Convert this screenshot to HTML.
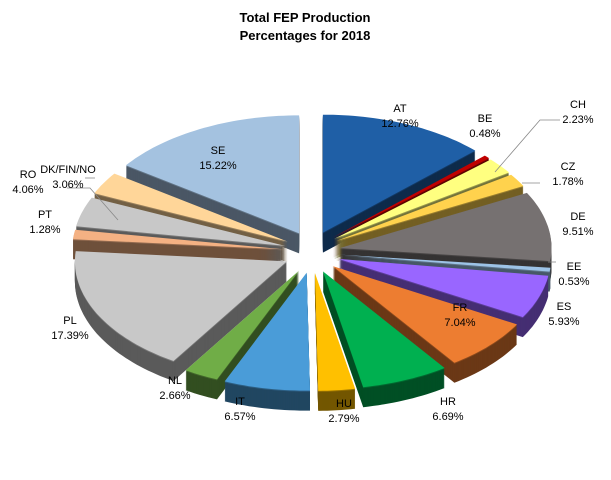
<!DOCTYPE html>
<html><head><meta charset="utf-8"><style>
body{margin:0;background:#fff;width:611px;height:480px;overflow:hidden}
svg{display:block}
text{font-family:"Liberation Sans",sans-serif;font-size:11px;fill:#000}
</style></head><body>
<svg id="s" width="611" height="480" viewBox="0 0 611 480">
<g id="pie"></g>
<g stroke="#888" stroke-width="0.8" fill="none">
<polyline points="495,172 540,120 560,120"/>
<polyline points="522,183 540,183"/>
<polyline points="548,262 556,262"/>
<polyline points="67,188 90,188 118,220"/>
<polyline points="85,178 95,178"/>
</g>
<text x="305" y="22" text-anchor="middle" style="font-weight:bold;font-size:13px">Total FEP Production</text>
<text x="305" y="40" text-anchor="middle" style="font-weight:bold;font-size:13px">Percentages for 2018</text>
<g text-anchor="middle">
<text x="400" y="112">AT</text><text x="400" y="127">12.76%</text>
<text x="485" y="122">BE</text><text x="485" y="137">0.48%</text>
<text x="578" y="108">CH</text><text x="578" y="123">2.23%</text>
<text x="568" y="170">CZ</text><text x="568" y="185">1.78%</text>
<text x="578" y="220">DE</text><text x="578" y="235">9.51%</text>
<text x="574" y="270">EE</text><text x="574" y="285">0.53%</text>
<text x="564" y="310">ES</text><text x="564" y="325">5.93%</text>
<text x="460" y="311">FR</text><text x="460" y="326">7.04%</text>
<text x="448" y="405">HR</text><text x="448" y="420">6.69%</text>
<text x="344" y="407">HU</text><text x="344" y="422">2.79%</text>
<text x="240" y="405">IT</text><text x="240" y="420">6.57%</text>
<text x="175" y="384">NL</text><text x="175" y="399">2.66%</text>
<text x="70" y="324">PL</text><text x="70" y="339">17.39%</text>
<text x="45" y="218">PT</text><text x="45" y="233">1.28%</text>
<text x="28" y="178">RO</text><text x="28" y="193">4.06%</text>
<text x="68" y="173">DK/FIN/NO</text><text x="68" y="188">3.06%</text>
<text x="218" y="154">SE</text><text x="218" y="169">15.22%</text>
</g>
</svg>
<script>
var data=[["AT",12.76,"#1f5fa6"],["BE",0.48,"#c00000"],["CH",2.23,"#ffff80"],["CZ",1.78,"#ffd24d"],["DE",9.51,"#767171"],["EE",0.53,"#9dc3e6"],["ES",5.93,"#9966ff"],["FR",7.04,"#ed7d31"],["HR",6.69,"#00b050"],["HU",2.79,"#ffc000"],["IT",6.57,"#4a9cd8"],["NL",2.66,"#70ad47"],["PL",17.39,"#c8c8c8"],["PT",1.28,"#f4b183"],["RO",4.06,"#c8c8c8"],["DK",3.06,"#ffd699"],["SE",15.22,"#a4c2e0"]];
var cx=312,cy=252,rx=212,ry=118,e=28,dep=20;
function dark(c,f){var n=parseInt(c.slice(1),16);var r=(n>>16)&255,g=(n>>8)&255,b=n&255;return "rgb("+Math.round(r*f)+","+Math.round(g*f)+","+Math.round(b*f)+")";}
var tot=0;data.forEach(function(d){tot+=d[1]});
var a=0,sl=[];
data.forEach(function(d){var t0=a,t1=a+d[1]/tot*2*Math.PI;a=t1;var m=(t0+t1)/2;
var ox=cx+e*Math.sin(m),oy=cy-e*Math.cos(m)*0.75;
var p="M"+ox+","+oy;var n=Math.max(2,Math.ceil((t1-t0)*40));
for(var i=0;i<=n;i++){var t=t0+(t1-t0)*i/n;p+=" L"+(ox+rx*Math.sin(t)).toFixed(1)+","+(oy-ry*Math.cos(t)).toFixed(1);}
p+="Z";sl.push({p:p,c:d[2],k:-Math.cos(m)});});
sl.sort(function(x,y){return x.k-y.k});
var g=document.getElementById("pie"),h="";
sl.forEach(function(s){var dc=dark(s.c,0.45);
for(var k=dep;k>=1;k--){h+='<path d="'+s.p+'" fill="'+(k==1?dark(s.c,0.6):dc)+'" transform="translate(0,'+k+')"/>';}
h+='<path d="'+s.p+'" fill="'+s.c+'"/>';});
g.innerHTML=h;
</script>
</body></html>
